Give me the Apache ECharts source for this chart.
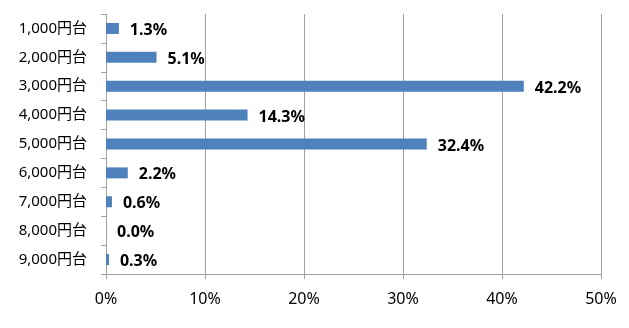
<!DOCTYPE html>
<html><head><meta charset="utf-8">
<script src="https://cdn.jsdelivr.net/npm/echarts@6/dist/echarts.min.js"></script>
<style>html,body{margin:0;padding:0;background:#fff}#c{width:629px;height:328px}</style>
</head><body><div id="c"></div>
<script>
const categories = ['1,000円台','2,000円台','3,000円台','4,000円台','5,000円台','6,000円台','7,000円台','8,000円台','9,000円台'];
const values = [1.3, 5.1, 42.2, 14.3, 32.4, 2.2, 0.6, 0.0, 0.3];
const xTicks = [0, 10, 20, 30, 40, 50];

const chart = echarts.init(document.getElementById('c'), null, {renderer: 'canvas'});
const axisGray = '#a0a0a0';
chart.setOption({
  animation: false,
  grid: {left: 106, right: 28, top: 14, bottom: 54, containLabel: false},
  xAxis: {
    type: 'value', min: xTicks[0], max: xTicks[xTicks.length - 1], interval: 10,
    axisLine: {show: true, lineStyle: {color: axisGray, width: 1}},
    axisTick: {show: true, length: 5, lineStyle: {color: axisGray}},
    splitLine: {show: true, lineStyle: {color: axisGray, width: 1}},
    axisLabel: {formatter: '{value}%', color: '#000', fontSize: 16, margin: 17,
      fontFamily: '"Noto Sans", "Noto Sans CJK JP", sans-serif'}
  },
  yAxis: {
    type: 'category', data: categories, inverse: true,
    axisLine: {show: true, lineStyle: {color: axisGray, width: 1}},
    axisTick: {show: true, length: 5, alignWithLabel: false, lineStyle: {color: axisGray}},
    axisLabel: {color: '#000', fontSize: 15, margin: 19, offset: [0, 1],
      fontFamily: '"Noto Sans", "Noto Sans CJK JP", sans-serif'}
  },
  series: [{
    type: 'bar', data: values, barWidth: 11,
    itemStyle: {color: '#4f81bd'},
    label: {show: true, position: 'right', distance: 11,
      formatter: p => p.value.toFixed(1) + '%',
      color: '#000', fontWeight: 'bold', fontSize: 16, offset: [0, 2],
      fontFamily: '"Noto Sans", sans-serif'}
  }]
});
</script></body></html>
